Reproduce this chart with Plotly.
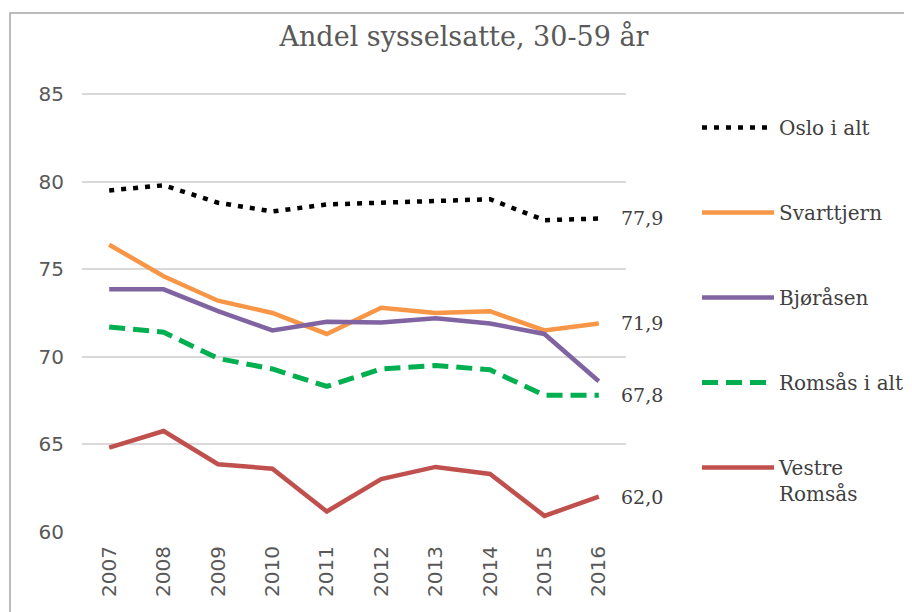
import plotly.graph_objects as go

years = [2007, 2008, 2009, 2010, 2011, 2012, 2013, 2014, 2015, 2016]
oslo = [79.5, 79.8, 78.8, 78.3, 78.7, 78.8, 78.85, 79.0, 77.8, 77.9]
svarttjern = [76.4, 74.6, 73.2, 72.5, 71.3, 72.8, 72.5, 72.6, 71.5, 71.9]
bjoraasen = [73.85, 73.85, 72.6, 71.5, 72.0, 71.95, 72.2, 71.9, 71.3, 68.6]
romsaas = [71.7, 71.4, 69.9, 69.3, 68.3, 69.3, 69.5, 69.25, 67.8, 67.8]
vestre = [64.8, 65.75, 63.85, 63.6, 61.15, 63.0, 63.7, 63.3, 60.9, 62.0]
end_labels = ["77,9", "71,9", "67,8", "62,0"]
end_values = [77.9, 71.9, 67.8, 62.0]
y_ticks = [60, 65, 70, 75, 80, 85]

# page is offset by the default 8px body margin
L, R, T, B = 74, 294, 81, 88
W, H = 912, 612
pw, ph = W - L - R, H - T - B

fig = go.Figure()
series = [
    ("Oslo i alt", oslo, "#000000", "5px,7px", 4.5),
    ("Svarttjern", svarttjern, "#F79646", "solid", 4.5),
    ("Bjøråsen", bjoraasen, "#8064A2", "solid", 4.5),
    ("Romsås i alt", romsaas, "#00B050", "16px,8px", 5),
    ("Vestre<br>Romsås", vestre, "#C0504D", "solid", 4.5),
]
for i, (name, vals, col, dash, w) in enumerate(series):
    fig.add_trace(go.Scatter(
        x=years, y=vals, mode="lines", name=name, legendgroup=str(i),
        line=dict(color=col, width=w, dash=dash),
    ))

for lab, v in zip(end_labels, end_values):
    fig.add_annotation(x=years[-1], y=v, text=lab, showarrow=False,
                       xanchor="left", yanchor="middle", xshift=20,
                       font=dict(family="DejaVu Serif", size=19, color="#404040"))

# outer chart border
fig.add_shape(type="rect", xref="paper", yref="paper",
              x0=(2 - L) / pw, x1=(W + 20 - L) / pw,
              y0=(B - (H + 20)) / ph, y1=1 + (T - 5) / ph,
              line=dict(color="#A6A6A6", width=1.5), fillcolor="rgba(0,0,0,0)")

fig.update_layout(
    width=W, height=H,
    margin=dict(l=L, r=R, t=T, b=B),
    paper_bgcolor="white", plot_bgcolor="white",
    title=dict(text="Andel sysselsatte, 30-59 år", x=456 / W, xanchor="center",
               y=1 - 29 / H, yanchor="middle", xref="container", yref="container",
               font=dict(family="DejaVu Serif", size=27, color="#595959")),
    xaxis=dict(range=[2006.5, 2016.5], tickvals=years, ticktext=[str(y) for y in years],
               tickangle=-90, showgrid=False, zeroline=False, showline=False,
               tickfont=dict(family="DejaVu Sans", size=20, color="#595959"), ticks="",
               ticklabelstandoff=9),
    yaxis=dict(range=[59.98, 85.3], tickvals=y_ticks, showgrid=True, gridcolor="#D9D9D9",
               gridwidth=1.5, zeroline=False, showline=False, ticks="",
               tickfont=dict(family="DejaVu Sans", size=20, color="#595959"),
               ticklabelstandoff=17),
    legend=dict(x=(689 - L) / pw, y=1 + (T - 100) / ph, xanchor="left", yanchor="top",
                font=dict(family="DejaVu Serif", size=20, color="#404040"),
                tracegroupgap=56, itemwidth=72, valign="top", bgcolor="rgba(0,0,0,0)"),
    showlegend=True,
)
fig.write_html("out.html")
